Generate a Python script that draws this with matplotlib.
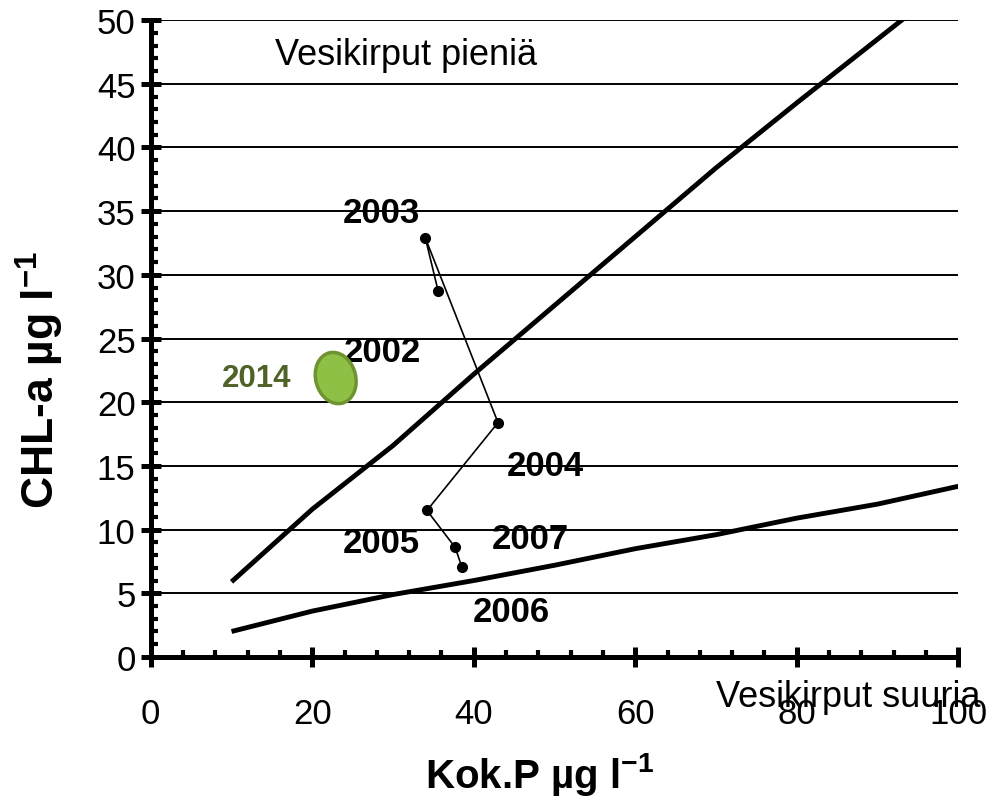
import matplotlib
matplotlib.use("Agg")
import matplotlib.pyplot as plt
from matplotlib.patches import Ellipse
from matplotlib.transforms import ScaledTranslation
from matplotlib.ticker import MultipleLocator

plt.rcParams['font.family'] = ['Liberation Sans', 'DejaVu Sans']
plt.rcParams['mathtext.fontset'] = 'custom'
plt.rcParams['mathtext.rm'] = 'Liberation Sans'
plt.rcParams['mathtext.bf'] = 'Liberation Sans:bold'

# boundary lines
bound_x = [10, 20, 30, 40, 50, 60, 70, 80, 90, 100]
upper_y = [5.9, 11.6, 16.6, 22.2, 27.6, 33.0, 38.4, 43.5, 48.5, 53.5]
lower_y = [2.0, 3.6, 4.9, 6.0, 7.2, 8.5, 9.6, 10.9, 12.0, 13.4]

# observed years
years = ['2002', '2003', '2004', '2005', '2006', '2007']
tot_p = [35.6, 34.0, 43.0, 34.2, 37.7, 38.5]
chl_a = [28.7, 32.9, 18.4, 11.5, 8.6, 7.1]
label_x = [28.7, 28.5, 48.9, 28.5, 44.6, 47.0]
label_y = [24.0, 34.9, 15.0, 8.95, 3.6, 9.3]

# 2014 point
p2014_x, p2014_y = 22.9, 21.9
lab2014_x, lab2014_y = 13.1, 21.9

x_ticks = [0, 20, 40, 60, 80, 100]
y_ticks = list(range(0, 51, 5))

fig = plt.figure(figsize=(9.92, 8.12), dpi=100)
ax = fig.add_axes([0.152, 0.1897, 0.814, 0.7843])
ax.set_xlim(0, 100)
ax.set_ylim(0, 50)

for yv in y_ticks[1:]:
    ax.axhline(yv, color='black', lw=1.4, zorder=1)

ax.plot(bound_x, upper_y, color='black', lw=3.5, solid_capstyle='butt', zorder=3)
ax.plot(bound_x, lower_y, color='black', lw=3.5, solid_capstyle='butt', zorder=3)

ax.plot(tot_p, chl_a, color='black', lw=1.2, marker='o', markersize=7, zorder=4)

for t, lx, ly in zip(years, label_x, label_y):
    ax.text(lx, ly, t, fontsize=25, fontweight='bold', ha='center', va='center', zorder=5)

trans = fig.dpi_scale_trans + ScaledTranslation(p2014_x, p2014_y, ax.transData)
ax.add_patch(Ellipse((0, 0), 0.40, 0.52, angle=15, transform=trans,
                     facecolor='#8DC044', edgecolor='#6E9330', lw=2.5, zorder=6))
ax.text(lab2014_x, lab2014_y, '2014', fontsize=22.5, fontweight='bold', color='#4F6228',
        ha='center', va='center', zorder=5)

ax.text(15.4, 47.3, 'Vesikirput pieniä', fontsize=26, ha='left', va='center')
ax.text(70.0, -3.1, 'Vesikirput suuria', fontsize=26, ha='left', va='center', clip_on=False, zorder=10)

for s in ['top', 'right']:
    ax.spines[s].set_visible(False)
for s in ['left', 'bottom']:
    ax.spines[s].set_linewidth(3.6)

ax.set_xticks(x_ticks)
ax.set_yticks(y_ticks)
ax.xaxis.set_minor_locator(MultipleLocator(4))
ax.yaxis.set_minor_locator(MultipleLocator(1))
ax.tick_params(which='major', direction='inout', length=14, width=3.6, labelsize=25)
ax.tick_params(axis='x', which='major', pad=22)
ax.tick_params(axis='y', which='major', pad=4)
ax.tick_params(which='minor', direction='in', length=5, width=3.0)

fig.text(0.544, 0.0456, r'Kok.P µg l$^{\mathbf{-1}}$', fontsize=29, fontweight='bold',
         ha='center', va='center')
fig.text(0.0403, 0.532, r'CHL-a µg l$^{\mathbf{-1}}$', fontsize=32, fontweight='bold',
         ha='center', va='center', rotation=90)

fig.savefig('out.png', dpi=100)
